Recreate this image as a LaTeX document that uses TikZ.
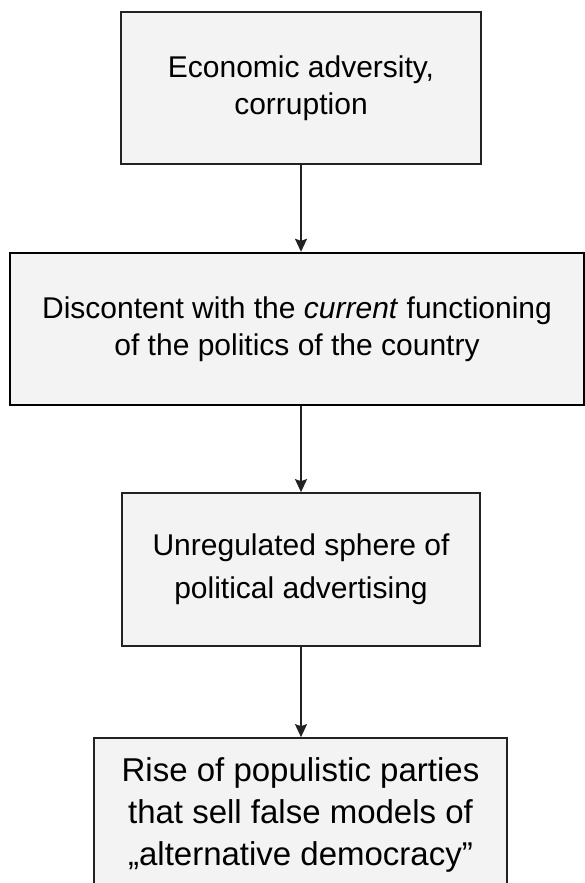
\documentclass[tikz,border=0pt]{standalone}
\usepackage{fontspec}
\setmainfont{Liberation Sans}
\usepackage{xcolor}
\usepackage{tikz}
\usetikzlibrary{arrows.meta}

\definecolor{boxfill}{HTML}{F3F3F3}
\definecolor{boxline}{HTML}{222222}

\begin{document}
\begin{tikzpicture}[
    x=1pt, y=-1pt,
    box/.style={rectangle, draw=boxline, fill=boxfill, line width=1.7pt, align=center, inner sep=0pt,
                font=\fontsize{30}{37}\selectfont},
    arrow/.style={-{Stealth[length=13pt, width=12pt, inset=2pt]}, line width=1.7pt, draw=boxline}
]
    \useasboundingbox (0,0) rectangle (585,883);

    % Nodes
    \node[box, minimum width=360pt, minimum height=152pt] (adversity) at (301,88)
        {Economic adversity,\\corruption};
    \node[box, minimum width=574pt, minimum height=152pt, line width=2.4pt, draw=black] (discontent) at (297,329)
        {Discontent with the \textit{current} functioning\\of the politics of the country};
    \node[box, minimum width=358pt, minimum height=153pt, font=\fontsize{30}{43}\selectfont] (advertising) at (301,569.5)
        {Unregulated sphere of\\political advertising};
    \node[box, minimum width=413pt, minimum height=154pt, font=\fontsize{33}{42}\selectfont] (populism) at (300.5,815)
        {Rise of populistic parties\\that sell false models of\\„alternative democracy”};

    % Arrows
    \draw[arrow] (adversity) -- (adversity |- discontent.north);
    \draw[arrow] (discontent.south -| advertising) -- (advertising);
    \draw[arrow] (advertising) -- (advertising |- populism.north);
\end{tikzpicture}
\end{document}
